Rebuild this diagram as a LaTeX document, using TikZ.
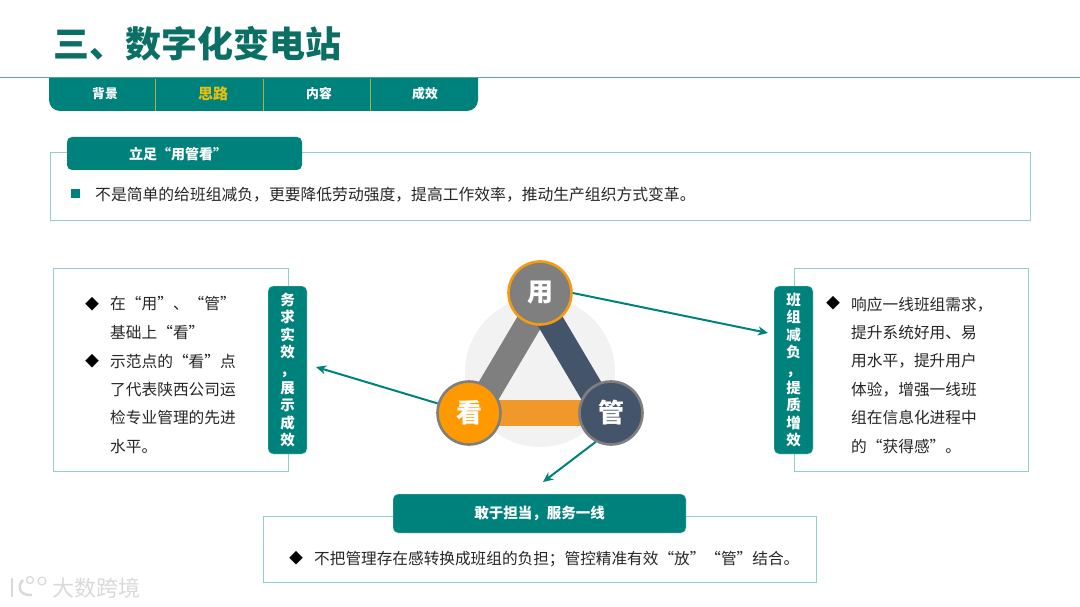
\documentclass[tikz,border=0pt]{standalone}
\usepackage{fontspec}
\setmainfont{Noto Sans CJK SC}
\usetikzlibrary{arrows.meta}

\definecolor{teal-main}{HTML}{00827C}
\definecolor{teal-dark}{HTML}{0B6F66}
\definecolor{teal-soft}{HTML}{93CFCC}
\definecolor{rule-green}{HTML}{4FB088}
\definecolor{tab-gold}{HTML}{E8BE10}
\definecolor{tab-rule}{HTML}{9DB84A}
\definecolor{text-ink}{HTML}{262626}
\definecolor{tri-gray}{HTML}{7F7F7F}
\definecolor{tri-navy}{HTML}{44546A}
\definecolor{tri-orange}{HTML}{F0982A}
\definecolor{kan-orange}{HTML}{FF9900}
\definecolor{ring-orange}{HTML}{F39C12}

\tikzset{
  sub-box/.style={draw=teal-soft, line width=1pt, fill=white},
  sub-label/.style={rectangle, rounded corners=5pt, fill=teal-main, draw=teal-soft!60, line width=0.4pt, text=white, font=\fontsize{14.5}{17.6}\selectfont\bfseries, inner sep=0pt, align=center},
  sub-text/.style={anchor=north west, inner sep=0pt, text=text-ink, align=left, font=\fontsize{15.7}{28.45}\selectfont},
  sub-dot/.style={inner sep=0pt, text=black, font=\fontsize{14}{16}\selectfont},
  tab-text/.style={text=white, inner sep=0pt, font=\fontsize{12.8}{15}\selectfont\bfseries},
  tri-node/.style={circle, minimum size=63pt, inner sep=0pt, line width=2.6pt, text=white, font=\fontsize{26}{30}\selectfont\bfseries},
  tri-bar/.style={line width=26pt},
  link-arrow/.style={-{Stealth[length=10pt, width=9pt, inset=3pt]}, line width=2pt, draw=teal-main},
}

\begin{document}
\begin{tikzpicture}[x=1pt, y=-1pt]
    \useasboundingbox (0,0) rectangle (1080,607);

    % Title and rule
    \node[anchor=west, inner sep=0pt, text=teal-dark, font=\fontsize{36}{40}\selectfont\bfseries] (title) at (53.5,43.5) {三、数字化变电站};
    \draw[rule-green, line width=1.2pt] (0,77.5) -- (1080,77.5);

    % Tab bar
    \fill[teal-main] (49,78) -- (49,100) arc[start angle=180, end angle=90, radius=11] -- (467,111) arc[start angle=90, end angle=0, radius=11] -- (478,78) -- cycle;
    \foreach \xpos in {155.5,263,370.5}
        \draw[tab-rule, line width=1pt] (\xpos,79) -- (\xpos,111);
    \node[tab-text] (tab1) at (105,93.5) {背景};
    \node[tab-text, text=tab-gold, font=\fontsize{15}{18}\selectfont\bfseries] (tab2) at (213,93.5) {思路};
    \node[tab-text] (tab3) at (319,93.5) {内容};
    \node[tab-text] (tab4) at (425,93.5) {成效};

    % Top box
    \draw[sub-box] (50,152.5) rectangle (1030,221);
    \fill[teal-main, rounded corners=5pt] (67,137) rectangle (302,170);
    \node[tab-text, font=\fontsize{14}{17}\selectfont\bfseries] (stand) at (178,154.5) {立足“用管看”};
    \fill[teal-main] (71,189) rectangle (80,198);
    \node[sub-text, anchor=west, font=\fontsize{15.8}{18}\selectfont] (standtxt) at (95,194.5) {不是简单的给班组减负，更要降低劳动强度，提高工作效率，推动生产组织方式变革。};

    % Left box
    \draw[sub-box] (53,268) rectangle (288,471);
    \node[sub-label, minimum width=39pt, minimum height=168pt] (leftlab) at (287.5,370) {务\\求\\实\\效\\，\\展\\示\\成\\效};
    \node[sub-text] (lefta) at (110,296.5) {在“用”、“管”\\基础上“看”};
    \node[sub-text] (leftb) at (110,353.5) {示范点的“看”点\\了代表陕西公司运\\检专业管理的先进\\水平。};
    \node[sub-dot] (leftdota) at (92,304) {◆};
    \node[sub-dot] (leftdotb) at (92,361) {◆};

    % Right box
    \draw[sub-box] (794,268) rectangle (1028,471);
    \node[sub-label, minimum width=39pt, minimum height=168pt] (rightlab) at (793.5,370) {班\\组\\减\\负\\，\\提\\质\\增\\效};
    \node[sub-text] (righttxt) at (851,296.5) {响应一线班组需求，\\提升系统好用、易\\用水平，提升用户\\体验，增强一线班\\组在信息化进程中\\的“获得感”。};
    \node[sub-dot] (rightdot) at (833,303) {◆};

    % Bottom box
    \draw[sub-box] (263,516) rectangle (816,582);
    \node[sub-label, minimum width=293pt, minimum height=39pt] (bottomlab) at (539.5,513.5) {敢于担当，服务一线};
    \node[sub-text, anchor=west, font=\fontsize{15.65}{18}\selectfont] (bottomtxt) at (314,559.5) {不把管理存在感转换成班组的负担；管控精准有效“放”“管”结合。};
    \node[sub-dot] (bottomdot) at (296,558) {◆};

    % Triangle
    \fill[gray!10] (540,372) circle[radius=75];
    \draw[tri-bar, tri-gray] (546.5,293) -- (475.5,413);
    \draw[tri-bar, tri-navy] (533.5,293) -- (604.5,413);
    \draw[tri-bar, tri-orange] (469,413) -- (611,413);
    \node[tri-node, fill=tri-gray, draw=ring-orange] (yong) at (540,293) {用};
    \node[tri-node, fill=kan-orange, draw=tri-gray] (kan) at (469,413) {看};
    \node[tri-node, fill=tri-navy, draw=tri-gray] (guan) at (611,413) {管};

    % Arrows
    \coordinate (rightend) at (768,333);
    \coordinate (leftend) at (316,367);
    \coordinate (bottomend) at (543,482);
    \draw[link-arrow] (yong.east) -- (rightend);
    \draw[link-arrow] (kan.163) -- (leftend);
    \draw[link-arrow] (guan.242) -- (bottomend);

    % Watermark
    \node[anchor=west, inner sep=0pt, text=gray!30, font=\fontsize{22}{24}\selectfont] (mark) at (52,588) {大数跨境};
    \draw[gray!30, line width=2.5pt] (12,578) -- (12,597);
    \draw[gray!30, line width=2.5pt] (23,580) .. controls (17,586) and (19,596) .. (32,595);
    \draw[gray!30, line width=1.2pt] (30,580) circle[radius=3.5] (42,581) circle[radius=4];
\end{tikzpicture}
\end{document}
